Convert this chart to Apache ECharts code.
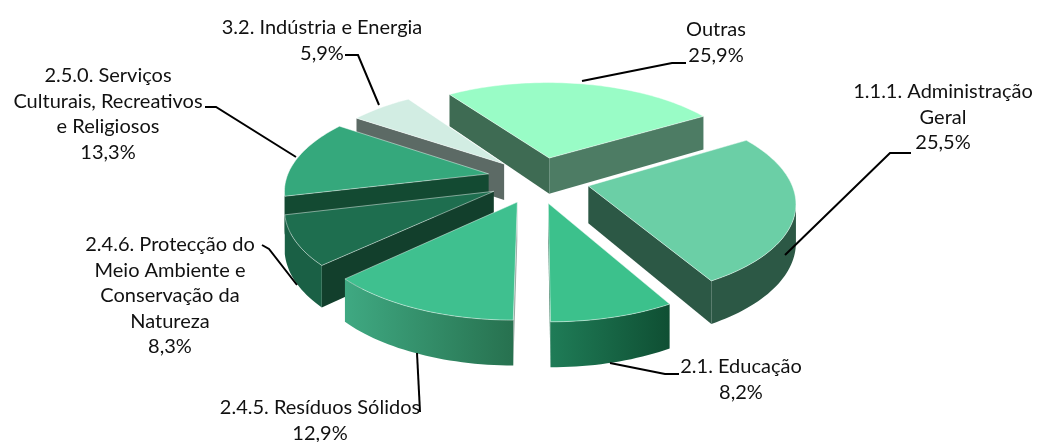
<!DOCTYPE html>
<html><head><meta charset="utf-8">
<script src="https://cdn.jsdelivr.net/npm/echarts@6/dist/echarts.min.js"></script>
<style>html,body{margin:0;padding:0;background:#fff}#c{width:1037px;height:442px}</style>
</head><body><div id="c"></div>
<script>
// Data, clockwise from the first slice
var categories = ['Outras','1.1.1. Administração\nGeral','2.1. Educação','2.4.5. Resíduos Sólidos','2.4.6. Protecção do\nMeio Ambiente e\nConservação da\nNatureza','2.5.0. Serviços\nCulturais, Recreativos\ne Religiosos','3.2. Indústria e Energia'];
var values = [25.9,25.5,8.2,12.9,8.3,13.3,5.9];

// Styles
var topColors = ['#99fcc6','#6bcfa6','#3cc18c','#3fc08f','#1e6e4f','#35a87c','#d2ede3'];
var apexStartWall = ['#3e6b53','#2c5845','#1c6a4a','#9aa8a2','#123f2c','#134a32','#5c6a65'];
var endApexWall = ['#4d7c64','#2c5845','#1c6a4a','#9aa8a2','#123f2c','#134a32','#5c6a65'];
var arcWallFrom = ['#4d7c64','#2c5845','#1f7c57','#3fa982','#1a6045','#134a32','#5c6a65'];
var arcWallTo   = ['#4d7c64','#2c5845','#0f4f33','#27714f','#1a6045','#134a32','#5c6a65'];

// Layout of the tilted pie
var startAngle = 325.5, cx = 539, cy = 180, R = 202, tilt = 0.46, persp = 0.15, explode = 0.25, depth = 37;
var nudges = [[0,0],[0,0],[-4,0],[-1,0],[0,0],[-1,-2],[0,0]];

// Layout of labels and leader lines
var labelCentres = [[716,30],[943,92],[741,367],[320,408],[170,245],[108,76],[322,28]];
var lineHeight = 25.4;
var leaders = [
  [[582,81],[672,63],[686,63]],
  [[785,255],[890,153],[911,153]],
  [[610,363],[665,374],[679,374]],
  [[417,353],[420,412]],
  [[297,285],[269,249],[262,245]],
  [[296,157],[216,107],[205,107]],
  [[379,105],[358,55],[345,55]]
];

var total = values.reduce(function(a,b){return a+b;},0);
function toRad(d){return d*Math.PI/180;}
var starts = [], acc = startAngle;
values.forEach(function(v){starts.push(acc); acc += v/total*360;});
function midDir(i){var m=toRad(starts[i]+values[i]/total*180);return [Math.sin(m),-Math.cos(m)];}
function project(X,Y,i,drop){
  var w = 1-persp*Y;
  return [cx+R*X/w+nudges[i][0], cy+R*tilt*Y/w+(drop?depth/w:0)+nudges[i][1]];
}
var order = values.map(function(_,i){return i;}).sort(function(a,b){return midDir(a)[1]-midDir(b)[1];});

function renderSlice(params, api){
  var i = api.value(1), v = api.value(0);
  var d = midDir(i), ox = d[0]*explode, oy = d[1]*explode;
  var a0 = starts[i], a1 = a0+v/total*360, n = Math.max(12,Math.round((a1-a0)/1.5));
  var arcW = [];
  for(var k=0;k<=n;k++){
    var a = toRad(a0+(a1-a0)*k/n);
    arcW.push([ox+Math.sin(a),oy-Math.cos(a)]);
  }
  function pt(p,dr){return project(p[0],p[1],i,dr);}
  var apex=[ox,oy], children=[];
  function quad(p,q,fill){
    children.push({type:'polygon',shape:{points:[pt(p),pt(q),pt(q,true),pt(p,true)]},style:{fill:fill}});
  }
  var s=arcW[0], e=arcW[n];
  if(pt(s)[0]<=pt(apex)[0]) quad(apex,s,apexStartWall[i]);
  if(pt(apex)[0]<pt(e)[0]) quad(e,apex,endApexWall[i]);
  var run=[];
  for(var k=0;k<n;k++){
    if(pt(arcW[k+1])[0]<pt(arcW[k])[0]){ if(!run.length) run.push(arcW[k]); run.push(arcW[k+1]); }
  }
  if(run.length>1){
    var poly=run.map(function(p){return pt(p);}).concat(run.slice().reverse().map(function(p){return pt(p,true);}));
    children.push({type:'polygon',shape:{points:poly},style:{fill:new echarts.graphic.LinearGradient(0,0,1,0,[{offset:0,color:arcWallFrom[i]},{offset:1,color:arcWallTo[i]}])}});
  }
  var top=[pt(apex)].concat(arcW.map(function(p){return pt(p);}));
  children.push({type:'polygon',shape:{points:top},style:{fill:topColors[i],stroke:'rgba(255,255,255,0.45)',lineWidth:1}});
  return {type:'group',children:children};
}

function renderLabel(params, api){
  var i = api.value(1);
  var txt = categories[i]+'\n'+values[i].toFixed(1).replace('.',',')+'%';
  return {type:'group',children:[
    {type:'polyline',shape:{points:leaders[i]},style:{fill:null,stroke:'#000',lineWidth:2}},
    {type:'text',x:labelCentres[i][0],y:labelCentres[i][1]-lineHeight/2,style:{text:txt,fontFamily:'Lato',fontSize:20,fill:'#111',align:'center',verticalAlign:'top',lineHeight:lineHeight}}
  ]};
}

var chart = echarts.init(document.getElementById('c'));
chart.setOption({
  animation:false,
  backgroundColor:'#fff',
  series:[
    {type:'custom',coordinateSystem:'none',silent:true,renderItem:renderSlice,clip:false,
     data:order.map(function(i){return [values[i],i];})},
    {type:'custom',coordinateSystem:'none',silent:true,renderItem:renderLabel,clip:false,z:5,
     data:values.map(function(v,i){return [v,i];})}
  ]
});
</script></body></html>
